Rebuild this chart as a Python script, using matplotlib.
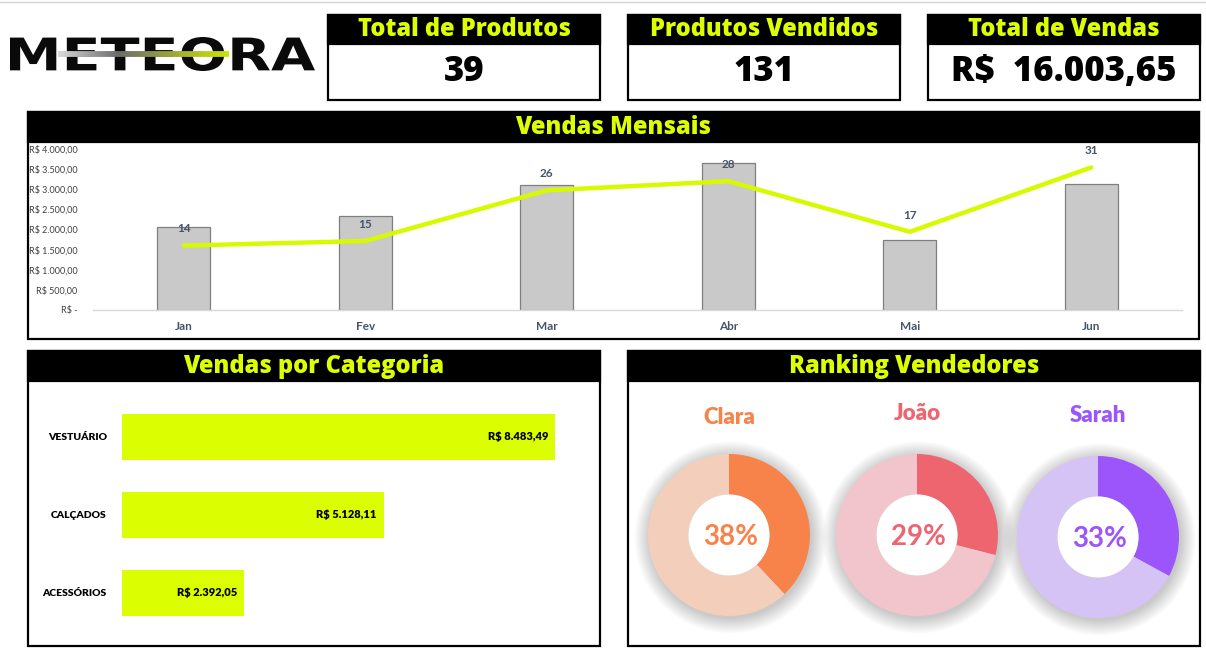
import numpy as np
import matplotlib
matplotlib.use("Agg")
import matplotlib.pyplot as plt
from matplotlib.patches import Rectangle, PathPatch, Circle
from matplotlib.textpath import TextPath
from matplotlib.font_manager import FontProperties
from matplotlib.transforms import Affine2D
from matplotlib.collections import LineCollection

# ---------------- data ----------------
kpi_titles = ["Total de Produtos", "Produtos Vendidos", "Total de Vendas"]
kpi_values = ["39", "131", "R$  16.003,65"]

months = ["Jan", "Fev", "Mar", "Abr", "Mai", "Jun"]
monthly_sales = [2060, 2335, 3105, 3650, 1740, 3130]
monthly_qty = [14, 15, 26, 28, 17, 31]
sales_ticks = [0, 500, 1000, 1500, 2000, 2500, 3000, 3500, 4000]
sales_tick_labels = ["R$ -", "R$ 500,00", "R$ 1.000,00", "R$ 1.500,00", "R$ 2.000,00",
                     "R$ 2.500,00", "R$ 3.000,00", "R$ 3.500,00", "R$ 4.000,00"]

categories = ["VESTUÁRIO", "CALÇADOS", "ACESSÓRIOS"]
category_sales = [8483.49, 5128.11, 2392.05]
category_labels = ["R$ 8.483,49", "R$ 5.128,11", "R$ 2.392,05"]

sellers = ["Clara", "João", "Sarah"]
seller_share = [38, 29, 33]
seller_dark = ["#F8834A", "#EE6570", "#9B55FB"]
seller_light = ["#F3CFBB", "#F1C5CB", "#D6C3F5"]

# ---------------- layout helpers ----------------
W, H = 1206, 654
fig = plt.figure(figsize=(W / 100, H / 100), dpi=100)
fig.patch.set_facecolor("white")

YEL = "#DDFF00"
HEAD_FONT = "Open Sans"
XL_FONT = "Lato"


def fx(x):
    return x / W


def fy(y):
    return 1 - y / H


def add_ax(x0, y0, x1, y1):
    return fig.add_axes([x0 / W, 1 - y1 / H, (x1 - x0) / W, (y1 - y0) / H])


def panel(x0, y0, x1, y1, head_bottom, title, size=17):
    fig.patches.append(Rectangle((fx(x0), fy(y1)), (x1 - x0) / W, (y1 - y0) / H,
                                 transform=fig.transFigure, facecolor="white",
                                 edgecolor="black", lw=1.6, zorder=-5))
    fig.patches.append(Rectangle((fx(x0), fy(head_bottom)), (x1 - x0) / W, (head_bottom - y0) / H,
                                 transform=fig.transFigure, facecolor="black",
                                 edgecolor="black", lw=1.6, zorder=-4))
    fig.text(fx((x0 + x1) / 2), fy((y0 + head_bottom) / 2 + 0.5), title, color=YEL,
             fontsize=size, fontweight=800, family=HEAD_FONT, ha="center", va="center")


# faint spreadsheet line at top
fig.add_artist(plt.Line2D([0, 1], [fy(2), fy(2)], transform=fig.transFigure,
                          color="#D4D4D4", lw=1, zorder=-6))

# ---------------- logo ----------------
fp = FontProperties(family="DejaVu Sans", weight="bold")
tp = TextPath((0, 0), "METEORA", size=1, prop=fp)
bb = tp.get_extents()
lx0, lx1, ly0, ly1 = 10, 315, 37, 71
tr = Affine2D().translate(-bb.x0, -bb.y0).scale(
    (fx(lx1) - fx(lx0)) / bb.width, (fy(ly0) - fy(ly1)) / bb.height).translate(fx(lx0), fy(ly1))
fig.patches.append(PathPatch(tr.transform_path(tp), transform=fig.transFigure,
                             facecolor="#0A0A0A", edgecolor="none", zorder=2))
# gradient streak
n = 120
xs = np.linspace(58, 229, n + 1)
c0 = np.array([0.85, 0.85, 0.85])
c1 = np.array([0.42, 0.42, 0.42])
c2 = np.array([0.80, 0.90, 0.0])
cols = []
for t in np.linspace(0, 1, n):
    if t < 0.35:
        c = c0 + (c1 - c0) * (t / 0.35)
    else:
        c = c1 + (c2 - c1) * ((t - 0.35) / 0.65)
    cols.append(c)
segs = [[(fx(xs[i]), fy(53.5)), (fx(xs[i + 1]), fy(53.5))] for i in range(n)]
lc = LineCollection(segs, colors=cols, linewidths=4.2, transform=fig.transFigure, zorder=3)
fig.add_artist(lc)

# ---------------- KPI boxes ----------------
kpi_x = [(328, 600), (628, 900), (928, 1200)]
for (x0, x1), t, v in zip(kpi_x, kpi_titles, kpi_values):
    panel(x0, 15, x1, 100, 44, t, size=17)
    fig.text(fx((x0 + x1) / 2), fy(72), v, fontsize=25, fontweight=800,
             family=HEAD_FONT, ha="center", va="center", color="black")

# ---------------- Vendas Mensais ----------------
panel(28, 112, 1199, 339, 142, "Vendas Mensais")
ax = add_ax(93, 149, 1182, 310)
x = np.arange(len(months))
ax.bar(x, monthly_sales, width=0.29, color="#C9C9C9", edgecolor="#7F7F7F", lw=0.9, zorder=2)
ax.set_xlim(-0.5, len(months) - 0.5)
ax.set_ylim(0, 4000)
ax.set_yticks(sales_ticks)
ax.set_yticklabels(sales_tick_labels, fontsize=6.5, color="#404040", family=XL_FONT)
ax.set_xticks(x)
ax.set_xticklabels(months, fontsize=8.5, color="#44546A", fontweight="bold", family=XL_FONT)
ax.tick_params(axis="y", length=0, pad=11)
ax.tick_params(axis="x", length=0, pad=8)
for s in ["top", "right", "left"]:
    ax.spines[s].set_visible(False)
ax.spines["bottom"].set_color("#D9D9D9")
ax.spines["bottom"].set_linewidth(1)
ax.patch.set_alpha(0)

ax2 = ax.twinx()
ax2.plot(x, monthly_qty, color="#D8FA00", lw=3.2, solid_capstyle="round", zorder=3)
ax2.set_ylim(0, 35)
ax2.axis("off")
for xi, q in zip(x, monthly_qty):
    ax2.annotate(str(q), (xi, q), xytext=(0, 8), textcoords="offset points",
                 ha="center", va="bottom", fontsize=8.5, fontweight="bold",
                 color="#44546A", family=XL_FONT)

# ---------------- Vendas por Categoria ----------------
panel(28, 351, 600, 646, 381, "Vendas por Categoria")
axc = add_ax(122, 398, 598, 632)
yc = np.arange(len(categories))
axc.barh(yc, category_sales, height=0.59, color="#DBFF00", edgecolor="none")
axc.set_ylim(len(categories) - 0.5, -0.5)
axc.set_xlim(0, 9326)
axc.set_yticks(yc)
axc.set_yticklabels(categories, fontsize=7.5, fontweight="heavy", family=XL_FONT, color="black")
axc.tick_params(axis="y", length=0, pad=11)
axc.set_xticks([])
for s in axc.spines.values():
    s.set_visible(False)
axc.patch.set_alpha(0)
for yi, v, lab in zip(yc, category_sales, category_labels):
    axc.annotate(lab, (v, yi), xytext=(-5, 0), textcoords="offset points",
                 ha="right", va="center", fontsize=8, fontweight="heavy",
                 family=XL_FONT, color="black")

# ---------------- Ranking Vendedores ----------------
panel(628, 351, 1200, 646, 381, "Ranking Vendedores")
centers = [(729, 535), (917, 535), (1098, 537)]
name_y = [417, 413, 415]
R = 81
for (cx, cy), name, share, dk, lt, ny in zip(centers, sellers, seller_share,
                                             seller_dark, seller_light, name_y):
    half = R * 1.35
    axp = add_ax(cx - half, cy - half, cx + half, cy + half)
    axp.patch.set_alpha(0)
    # soft shadow glow
    for k in range(18):
        axp.add_patch(Circle((0.02, -0.03), 1.0 + 0.011 * k, color="black",
                             alpha=0.01, lw=0, zorder=0))
    axp.pie([share, 100 - share], colors=[dk, lt], startangle=90, counterclock=False,
            radius=1.0, wedgeprops=dict(width=0.5, edgecolor="none"))
    axp.add_patch(Circle((0, 0), 0.5, color="white", zorder=5, lw=0))
    axp.set_xlim(-1.35, 1.35)
    axp.set_ylim(-1.35, 1.35)
    axp.set_aspect("auto")
    axp.axis("off")
    axp.text(0.02, -0.03, f"{share}%", fontsize=20, fontweight="bold", color=dk,
             ha="center", va="center", family=XL_FONT, zorder=6)
    fig.text(fx(cx), fy(ny), name, fontsize=16, fontweight="heavy", color=dk,
             ha="center", va="center", family=XL_FONT)

fig.savefig("out.png", dpi=100, facecolor="white")
